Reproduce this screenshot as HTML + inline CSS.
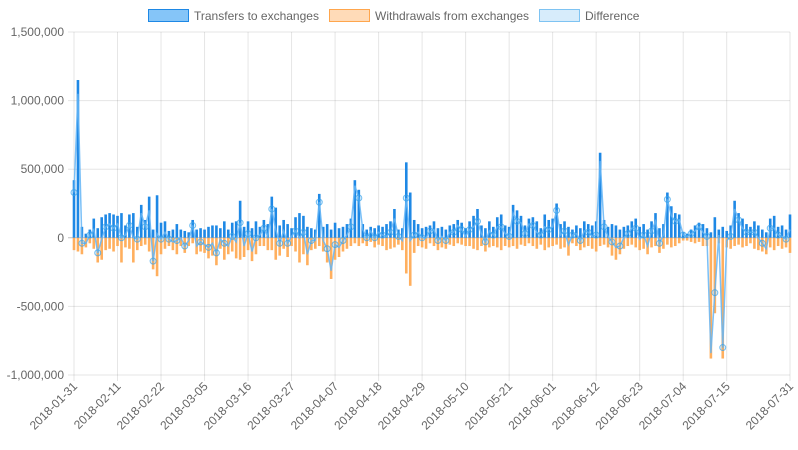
<!DOCTYPE html>
<html><head><meta charset="utf-8"><style>
body{margin:0;background:#fff;width:798px;height:450px;overflow:hidden}
svg{display:block;font-family:"Liberation Sans",sans-serif}
</style></head><body>
<svg id="chart" width="798" height="450">
  <g font-size="12" fill="#666">
    <g><rect x="148.5" y="9.5" width="40" height="12" fill="rgba(33,150,243,0.55)" stroke="#1e88e5"/><text x="194" y="20">Transfers to exchanges</text></g>
    <g><rect x="329.5" y="9.5" width="40" height="12" fill="rgba(255,166,77,0.4)" stroke="#ffa64d"/><text x="375" y="20">Withdrawals from exchanges</text></g>
    <g><rect x="539.5" y="9.5" width="40" height="12" fill="rgba(54,162,235,0.2)" stroke="rgba(54,162,235,0.6)"/><text x="585" y="20">Difference</text></g>
  </g>
  <g id="grid"></g><g id="bars"></g><g id="line"></g><g id="axes"></g>
</svg>
<script>
const dates=[];
const T=[420,1150,80,30,60,140,70,150,170,180,
170,160,180,90,170,180,80,240,130,300,
60,310,110,120,50,60,100,60,50,40,
130,60,70,60,80,90,90,70,120,60,
110,120,270,80,120,70,120,80,130,100,
300,220,90,130,100,70,150,180,160,80,
70,60,320,80,100,60,110,70,80,100,
140,420,350,100,60,80,70,90,80,100,
120,210,60,70,550,330,130,100,70,80,
90,120,70,80,60,90,100,130,110,70,
120,160,210,90,70,120,80,150,170,90,
80,240,200,160,90,140,150,120,70,170,
130,140,250,100,120,80,60,90,70,120,
100,90,120,620,130,80,100,90,60,80,
90,120,140,80,100,60,120,180,70,100,
330,230,180,170,40,30,60,90,110,100,
70,40,150,60,80,50,90,270,180,140,
100,80,120,90,60,40,140,160,80,90,60,170];
const W=[90,100,120,70,40,80,180,160,90,80,
100,60,180,70,80,180,90,60,50,100,
230,280,120,80,60,90,120,60,110,60,
40,120,100,110,150,130,200,80,160,120,
100,150,160,140,90,170,120,60,60,90,
90,160,130,80,140,60,100,180,120,200,
90,80,60,100,180,300,160,140,100,80,
60,40,60,40,60,30,70,50,60,90,
80,70,50,90,260,350,110,60,70,80,
40,60,90,70,80,50,60,40,50,60,
60,80,90,60,100,70,60,70,90,60,
70,60,80,50,60,40,60,80,50,90,
70,60,50,80,70,130,40,60,90,70,
60,80,100,60,50,70,130,160,120,80,
60,50,70,90,80,120,70,60,110,80,
50,70,60,40,20,20,30,40,30,60,
60,880,550,40,880,70,80,60,50,70,
60,40,80,90,100,120,70,90,60,80,70,110];
const yTicks=[1500000,1000000,500000,0,-500000,-1000000];
const yTickLabels=["1,500,000","1,000,000","500,000","0","-500,000","-1,000,000"];
const xTickIdx=[0,11,22,33,44,55,66,77,88,99,110,121,132,143,154,165,181];
(function(){const d0=new Date(Date.UTC(2018,0,31));for(let i=0;i<182;i++){const d=new Date(d0.getTime()+i*864e5);dates.push(d.toISOString().slice(0,10));}})();
const NS="http://www.w3.org/2000/svg";
const X0=74,X1=790,Y0=32,Y1=375;
const x=i=>X0+(X1-X0)*i/181;
const y=v=>Y0+(1500000-v)/2500000*(Y1-Y0);
function mk(p,tag,at){const e=document.createElementNS(NS,tag);for(const k in at)e.setAttribute(k,at[k]);p.appendChild(e);return e;}
const grid=document.getElementById('grid'),bars=document.getElementById('bars'),line=document.getElementById('line'),axes=document.getElementById('axes');
yTicks.forEach((v,k)=>{
  const l=mk(grid,'line',{x1:X0-6,x2:X1,y1:y(v),y2:y(v),stroke:v===0?'rgba(0,0,0,0.25)':'rgba(0,0,0,0.1)'});
  
  
  const t=mk(axes,'text',{x:X0-10,y:y(v)+4,'text-anchor':'end','font-size':12,fill:'#666'});
  t.textContent=yTickLabels[k];
  
  
});
xTickIdx.forEach(i=>{
  const l=mk(grid,'line',{x1:x(i),x2:x(i),y1:Y0,y2:Y1+6,stroke:'rgba(0,0,0,0.1)'});
  
  
  const t=mk(axes,'text',{x:0,y:0,'text-anchor':'end','font-size':12,fill:'#666',transform:`translate(${x(i)+4},${Y1+12}) rotate(-45)`});
  t.textContent=dates[i];
  
  
});
const bw=2.6;
T.forEach((v,i)=>{
  const r=mk(bars,'rect',{x:x(i)-bw/2,y:y(v*1000),width:bw,height:y(0)-y(v*1000),fill:'#1e88e5'});
  
  
});
W.forEach((v,i)=>{
  const r=mk(bars,'rect',{x:x(i)-bw/2,y:y(0),width:bw,height:y(-v*1000)-y(0),fill:'#ffa64d',opacity:0.9});
  
  
});
const D=T.map((v,i)=>(v-W[i])*1000);
const pl=mk(line,'polyline',{points:D.map((v,i)=>x(i)+','+y(v)).join(' '),fill:'none',stroke:'rgba(100,181,246,0.85)','stroke-width':1.5});


D.forEach((v,i)=>{if(i%2)return;
  const c=mk(line,'circle',{cx:x(i),cy:y(v),r:3,fill:'rgba(54,162,235,0.15)',stroke:'rgba(54,162,235,0.7)','stroke-width':1});
  
  
});
</script>
</body></html>
